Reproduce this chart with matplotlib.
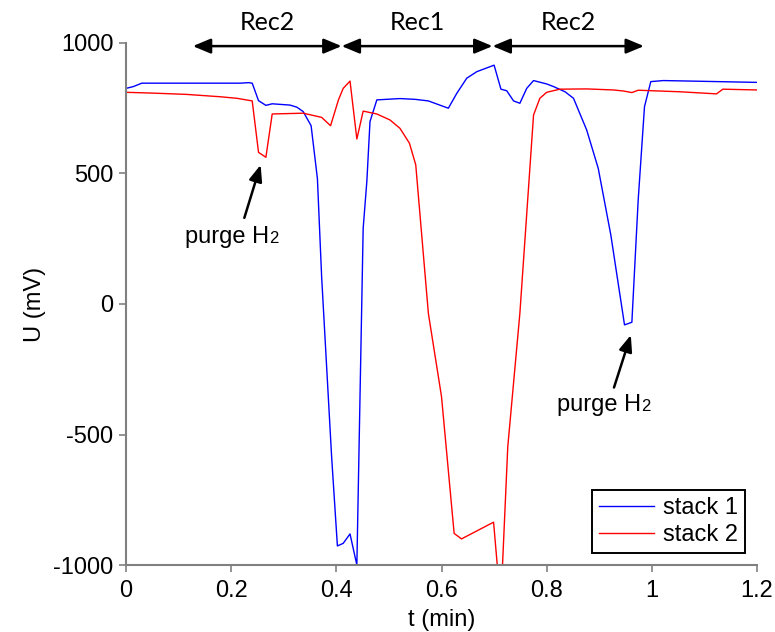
import matplotlib
matplotlib.use("Agg")
import matplotlib.pyplot as plt

plt.rcParams['font.family'] = ['Liberation Sans', 'DejaVu Sans']
plt.rcParams['font.size'] = 17
plt.rcParams['axes.unicode_minus'] = False

# stack 1 (blue)
t1 = [0.0, 0.014, 0.030, 0.10, 0.217, 0.233, 0.240, 0.252, 0.266, 0.278, 0.312, 0.325,
      0.337, 0.352, 0.364, 0.372, 0.391, 0.402, 0.413, 0.426, 0.439, 0.451, 0.458, 0.464,
      0.477, 0.521, 0.550, 0.575, 0.613, 0.629, 0.648, 0.667, 0.700, 0.713, 0.724, 0.737,
      0.749, 0.762, 0.775, 0.800, 0.813, 0.835, 0.851, 0.876, 0.898, 0.922, 0.948, 0.962,
      0.974, 0.986, 0.998, 1.022, 1.10, 1.20]
u1 = [826, 833, 846, 846, 846, 848, 846, 779, 761, 767, 762, 754,
      737, 683, 480, 105, -585, -927, -917, -881, -1000, 290, 470, 699,
      782, 787, 784, 778, 750, 807, 865, 890, 915, 823, 817, 778,
      769, 826, 856, 843, 833, 813, 788, 667, 520, 264, -80, -70,
      398, 756, 852, 856, 853, 849]

# stack 2 (red)
t2 = [0.0, 0.05, 0.115, 0.179, 0.211, 0.240, 0.252, 0.266, 0.278, 0.337, 0.372, 0.389,
      0.404, 0.413, 0.426, 0.439, 0.451, 0.477, 0.502, 0.521, 0.539, 0.551, 0.575, 0.600,
      0.624, 0.638, 0.699, 0.706, 0.716, 0.726, 0.749, 0.775, 0.787, 0.800, 0.825, 0.876,
      0.927, 0.946, 0.962, 0.974, 1.054, 1.123, 1.135, 1.20]
u2 = [811, 808, 803, 794, 788, 778, 581, 562, 728, 731, 715, 683,
      782, 826, 854, 632, 739, 728, 705, 673, 616, 533, -36, -355,
      -879, -900, -836, -1000, -1000, -547, -36, 724, 788, 811, 823, 824,
      820, 816, 810, 819, 813, 805, 823, 820]

x_ticks = [0, 0.2, 0.4, 0.6, 0.8, 1.0, 1.2]
x_labels = ['0', '0.2', '0.4', '0.6', '0.8', '1', '1.2']
y_ticks = [-1000, -500, 0, 500, 1000]

rec_labels = ['Rec2', 'Rec1', 'Rec2']
rec_bounds = [0.127, 0.410, 0.697, 0.985]

fig = plt.figure(figsize=(7.75, 6.32), dpi=100)
ax = fig.add_axes([0.1626, 0.106, 0.8142, 0.826])

ax.plot(t1, u1, color='#0000ff', lw=1.0, label='stack 1')
ax.plot(t2, u2, color='#ff0000', lw=1.0, label='stack 2')

ax.set_xlim(0, 1.2)
ax.set_ylim(-1000, 1000)
ax.set_xticks(x_ticks)
ax.set_xticklabels(x_labels)
ax.set_yticks(y_ticks)
for s in ['top', 'right']:
    ax.spines[s].set_visible(False)
for s in ['left', 'bottom']:
    ax.spines[s].set_color('#808080')
    ax.spines[s].set_linewidth(1.5)
ax.tick_params(direction='out', length=5, width=1.2, color='#808080', pad=4)
ax.tick_params(axis='x', pad=6)
ax.set_xlabel('t (min)', labelpad=5)
ax.set_ylabel('U (mV)', labelpad=5)

# Rec arrows
for i, lab in enumerate(rec_labels):
    a, b = rec_bounds[i], rec_bounds[i + 1]
    ax.annotate('', xy=(b, 988), xytext=(a, 988),
                arrowprops=dict(arrowstyle='<|-|>,head_length=0.6,head_width=0.25',
                                color='k', lw=1.8, mutation_scale=18,
                                shrinkA=0, shrinkB=0),
                annotation_clip=False)
    ax.text((a + b) / 2, 1080, lab, ha='center', va='center',
            family=['Lato', 'DejaVu Sans'], fontsize=18, clip_on=False)

# purge H2 annotations
def purge(x, y, xy_tail, xy_head):
    t = ax.text(x, y, 'purge H', va='baseline', ha='left')
    ax.annotate('2', xy=(1, y), xycoords=(t, 'data'), va='baseline', ha='left',
                fontsize=12)
    ax.annotate('', xy=xy_head, xytext=xy_tail,
                arrowprops=dict(arrowstyle='-|>,head_length=0.55,head_width=0.22',
                                color='k', lw=1.8, mutation_scale=18,
                                shrinkA=0, shrinkB=0))

purge(0.112, 234, (0.225, 330), (0.256, 533))
purge(0.819, -409, (0.928, -320), (0.960, -119))

leg = ax.legend(loc='lower right', fancybox=False, edgecolor='k', framealpha=1,
                handlelength=2.3, handletextpad=0.4, borderpad=0.3,
                labelspacing=0.2, borderaxespad=0.5, fontsize=17)
leg.get_frame().set_linewidth(1.4)

fig.savefig('out.png', dpi=100)
